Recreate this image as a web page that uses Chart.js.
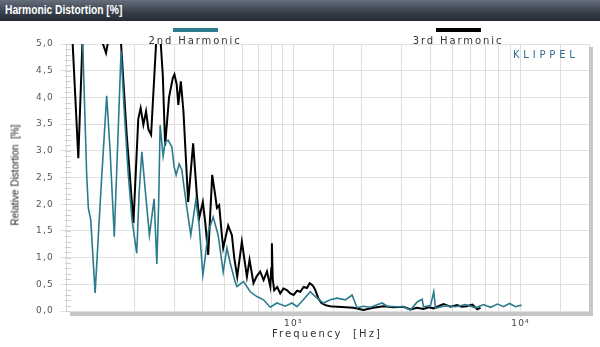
<!DOCTYPE html>
<html><head><meta charset="utf-8">
<script src="https://cdn.jsdelivr.net/npm/chart.js@4"></script>
<style>
html,body{margin:0;padding:0;background:#fff;width:600px;height:347px;overflow:hidden;position:relative;}
#bar{position:absolute;left:0;top:0;width:600px;height:21px;background:linear-gradient(#656e7b,#3a424e 55%,#232a34);}
#bar span{position:absolute;left:5px;top:3px;color:#fff;font:bold 12.5px "Liberation Sans",Arial,sans-serif;transform:scaleX(0.82);transform-origin:0 50%;white-space:pre;}
canvas{position:absolute;left:0;top:0;}
.leg{position:absolute;text-align:center;width:140px;font:10px "DejaVu Sans",sans-serif;letter-spacing:1.9px;color:#333;}
.leg i{display:block;width:45px;height:4px;margin:0 auto 3px auto;}
#klip{position:absolute;left:513px;top:49px;font:10px "DejaVu Sans",sans-serif;letter-spacing:3.8px;color:#2f6e8e;}
#ytitle{position:absolute;left:15px;top:175px;transform:translate(-50%,-50%) rotate(-90deg);white-space:pre;font:10px "Liberation Sans",Arial,sans-serif;color:#222;}
#xtitle{position:absolute;left:327px;top:333px;transform:translate(-50%,-50%);white-space:pre;font:10px "DejaVu Sans",sans-serif;letter-spacing:2.1px;color:#333;}
</style></head>
<body>
<div id="bar"><span>Harmonic Distortion [%]</span></div>
<canvas id="c" width="600" height="347"></canvas>
<div id="legend"></div>
<div id="klip">KLIPPEL</div>
<div id="ytitle">Relative Distortion  [%]</div>
<div id="xtitle">Frequency  [Hz]</div>
<script>
const seriesNames = ["2nd Harmonic", "3rd Harmonic"];
const seriesColors = ["#2b7b8e", "#000000"];

const freq2nd = [104,115,118.5,123.3,125.4,128.5,134.3,142.6,151,156.3,163.1,169.4,174.7,180.1,187.6,195.3,204.8,209.7,215.6,222.8,232.8,244.2,251,255.6,259.5,267.5,273,281.3,292.2,299.1,305.2,314.7,323.4,331.1,340.2,354,372.7,385.4,400,409.6,422.3,444.3,467.3,491.6,510.5,527.8,555.3,564.9,604,646.6,691.8,739.5,765,791.6,847.2,922.1,986.4,1038,1107,1188,1250,1355,1456,1558,1694,1814,1909,2035,2184,2459,2588,2863,3052,3276,3508,3690,3739,4014,4150,4223,4673,5172,5725,6337,6871,7378,7920,8414,8943,9507,10102];
const dist2nd = [7,6,5.0,2.55,1.93,1.7,0.34,2.3,4.03,3.0,1.39,3.3,4.87,3.8,2.6,1.7,1.08,2.2,2.98,2.3,1.42,2.1,0.88,2.0,3.48,2.9,3.16,3.2,3.07,2.7,2.55,2.75,2.64,2.3,1.93,1.42,2.08,1.6,0.67,1.0,1.48,1.76,1.42,0.73,1.18,0.9,0.54,0.46,0.55,0.36,0.27,0.21,0.14,0.07,0.15,0.09,0.15,0.08,0.21,0.36,0.27,0.15,0.21,0.24,0.21,0.30,0.06,0.09,0.07,0.15,0.09,0.08,0.08,0.02,0.17,0.22,0.08,0.1,0.36,0.05,0.1,0.08,0.12,0.06,0.12,0.07,0.13,0.08,0.14,0.08,0.11];

const freq3rd = [104,107,113.3,118.5,121,141,145.5,150,154,160,169,174.7,185,198,208,213,219,225,230.5,236.8,249,254,259.5,266.7,273,284,295,300,307,312,320,328.6,344.7,362.6,376.5,385.4,400,409.6,422.3,439.8,453.3,461.3,472,485,491.6,517,537,549.7,566.6,594,625,642,668,690,715,740,766,792,800,805,812,824,850,876,905,938,970,1003,1040,1074,1110,1149,1180,1209,1230,1250,1288,1330,1384,1450,1558,1700,1838,2035,2251,2492,2758,3052,3276,3500,3739,3950,4146,4350,4580,4916,5260,5500,5781,6143,6446,6665];
const dist3rd = [6.5,5.0,2.86,5.2,6.5,6.5,5.0,4.83,5.1,6.5,6.5,5.0,3.3,1.65,3.6,3.8,3.49,3.74,3.4,3.3,5.0,5.6,5.2,4.4,3.1,4.0,4.36,4.43,4.24,3.86,4.3,3.74,2.04,3.14,2.17,1.74,2.04,1.67,1.05,2.55,2.17,1.93,1.98,1.42,1.18,1.6,1.42,1.0,0.64,1.3,0.64,0.96,0.52,0.65,0.74,0.58,0.74,0.46,0.8,1.27,0.6,0.39,0.45,0.33,0.42,0.39,0.33,0.30,0.38,0.36,0.45,0.43,0.52,0.49,0.45,0.39,0.24,0.15,0.11,0.09,0.08,0.07,0.06,0.02,0.06,0.09,0.07,0.08,0.03,0.06,0.04,0.07,0.05,0.09,0.13,0.08,0.11,0.08,0.09,0.12,0.03,0.06];

const xMin = 100, xMax = 20000;
const yMin = 0, yMax = 5, yStep = 0.5, yMinorStep = 0.1;
const xLabelMap = {1000: "10³", 10000: "10⁴"};

const toPts = (f, v) => f.map((x, i) => ({x: x, y: v[i]}));

// legend as real text
const legPos = [195, 458];
document.getElementById('legend').innerHTML = seriesNames.map((n, i) =>
  `<div class="leg" style="left:${legPos[i]-70}px;top:28px"><i style="background:${seriesColors[i]}"></i>${n}</div>`).join('');

const decoPlugin = {
  id: 'deco',
  beforeDraw(chart) {
    chart.ctx.letterSpacing = '1.2px';
  },
  afterDatasetsDraw(chart) {
    const ctx = chart.ctx, a = chart.chartArea, ys = chart.scales.y;
    ctx.save();
    ctx.letterSpacing = '0px';
    ctx.strokeStyle = '#d0d0d0';
    ctx.lineWidth = 1;
    ctx.beginPath();
    for (let v = yMin; v <= yMax + 1e-9; v += yMinorStep) {
      const y = Math.round(ys.getPixelForValue(v)) + 0.5;
      ctx.moveTo(a.left - 1, y);
      ctx.lineTo(a.left + 5, y);
    }
    ctx.stroke();
    ctx.fillStyle = '#c6c6c6';
    ctx.fillRect(a.right, a.top + 3, 4, a.bottom - a.top + 2);
    ctx.fillRect(a.left + 4, a.bottom + 1, a.right - a.left, 4);
    ctx.restore();
  }
};

new Chart(document.getElementById('c'), {
  type: 'line',
  data: {
    datasets: [
      {label: seriesNames[0], data: toPts(freq2nd, dist2nd), borderColor: seriesColors[0], borderWidth: 1.6, pointRadius: 0, tension: 0},
      {label: seriesNames[1], data: toPts(freq3rd, dist3rd), borderColor: seriesColors[1], borderWidth: 2, pointRadius: 0, tension: 0}
    ]
  },
  options: {
    responsive: false,
    animation: false,
    devicePixelRatio: 1,
    layout: {padding: {top: 44, right: 11, left: 0, bottom: 0}},
    plugins: {legend: {display: false}, tooltip: {enabled: false}, title: {display: false}},
    scales: {
      x: {
        type: 'logarithmic', min: xMin, max: xMax,
        afterFit: s => { s.height = 36; },
        border: {display: false},
        grid: {
          color: c => (c.tick && c.tick.value === xMin) ? 'rgba(0,0,0,0)' : '#dedede',
          tickColor: c => (c.tick && xLabelMap[c.tick.value]) ? '#cfcfcf' : 'rgba(0,0,0,0)',
          tickLength: 6, drawTicks: true, lineWidth: 1
        },
        ticks: {
          autoSkip: false, maxRotation: 0, padding: 1,
          color: '#444', font: {family: 'DejaVu Sans', size: 9},
          callback: v => xLabelMap[v] || ''
        }
      },
      y: {
        min: yMin, max: yMax,
        afterFit: s => { s.width = 66; },
        border: {display: true, color: '#d8d8d8'},
        grid: {color: '#e0e0e0', tickColor: '#e0e0e0', tickLength: 6, drawTicks: true},
        ticks: {
          stepSize: yStep, padding: 6, color: '#555',
          font: {family: 'DejaVu Sans', size: 9},
          callback: v => Number(v).toFixed(1).replace('.', ',')
        }
      }
    }
  },
  plugins: [decoPlugin]
});
</script>
</body></html>
